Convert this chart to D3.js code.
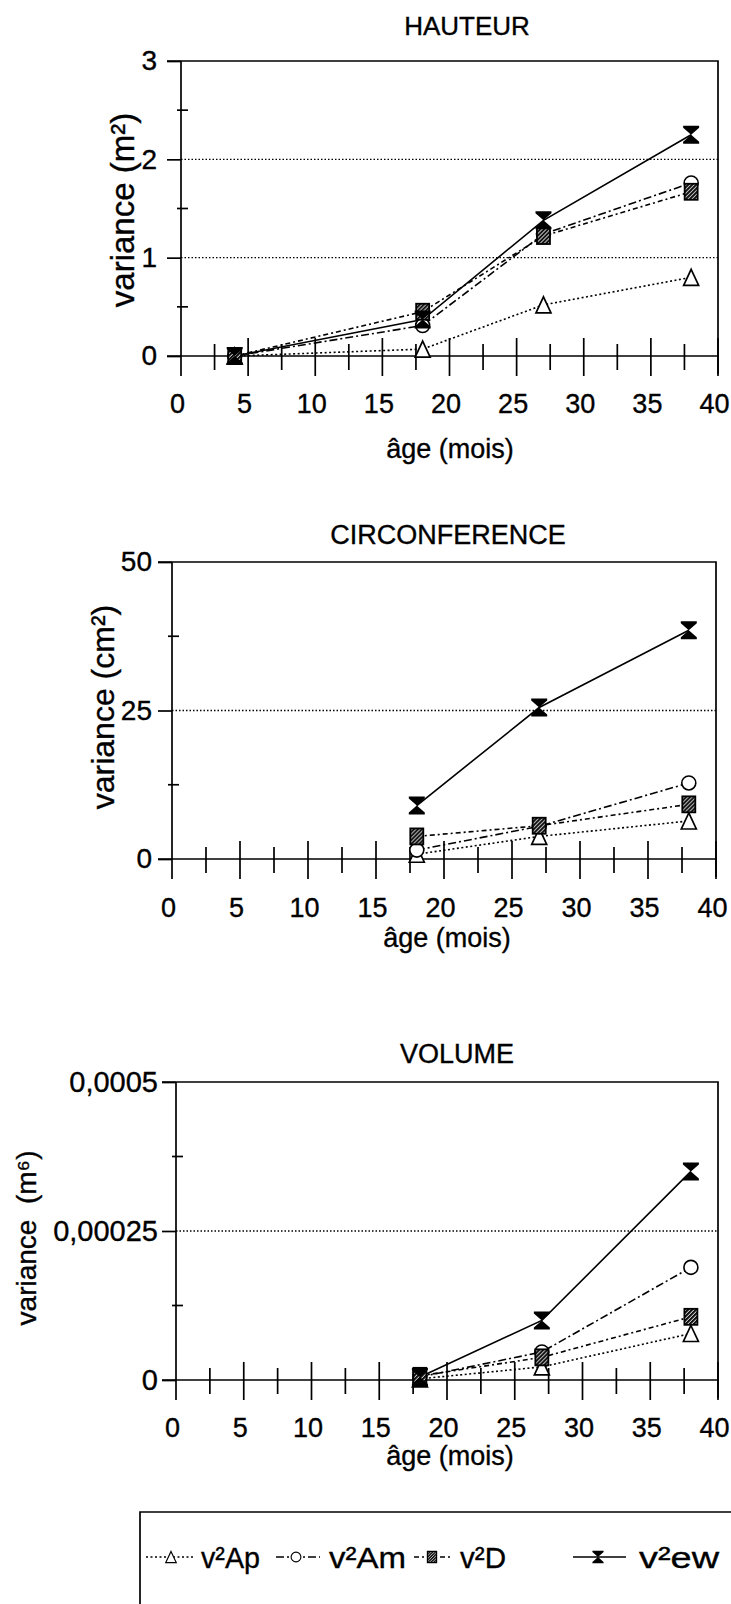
<!DOCTYPE html>
<html>
<head>
<meta charset="utf-8">
<title>variance</title>
<script src="https://cdn.jsdelivr.net/npm/d3@7"></script>
<style>
    body { margin: 0; background: #fff; }
    svg text { font-family: "Liberation Sans", Arial, sans-serif; fill: #000; stroke: #000; stroke-width: 0.35; }
</style>
</head>
<body>
<svg id="chart" width="731" height="1604"></svg>
<script>
    // ages (mois)
    var ageTicks = [0, 5, 10, 15, 20, 25, 30, 35, 40];
    var ageHaut = [4, 18, 27, 38];
    var ageAutres = [18, 27, 38];

    // HAUTEUR (m2)
    var hautAp = [0, 0.07, 0.52, 0.80];
    var hautAm = [0, 0.31, 1.24, 1.76];
    var hautD = [0, 0.45, 1.22, 1.67];
    var hautEw = [0, 0.37, 1.38, 2.25];
    var hautTicks = [0, 1, 2, 3];

    // CIRCONFERENCE (cm2)
    var circAp = [0.8, 3.8, 6.4];
    var circAm = [1.5, 5.5, 12.8];
    var circD = [3.8, 5.6, 9.2];
    var circEw = [9.0, 25.5, 38.5];
    var circTicks = [0, 25, 50];

    // VOLUME (m6)
    var volAp = [0.000002, 0.000022, 0.000078];
    var volAm = [0.000005, 0.000047, 0.000189];
    var volD = [0.000007, 0.000038, 0.000106];
    var volEw = [0.000005, 0.000100, 0.000350];
    var volTicks = [0, 0.00025, 0.0005];
    var volTickLabels = ["0", "0,00025", "0,0005"];

    var seriesNames = ["v²Ap", "v²Am", "v²D", "v²ew"];
    var seriesMarkers = ["triangle", "circle", "square", "hourglass"];
    var seriesDash = ["2,2.5", "8,3,2,3", "5,3,2,3", null];

    var svg = d3.select("#chart");

    // motif hachuré des carrés
    var pat = svg.append("defs").append("pattern")
        .attr("id", "hatch")
        .attr("patternUnits", "userSpaceOnUse")
        .attr("width", 4).attr("height", 4);
    pat.append("rect").attr("width", 4).attr("height", 4).attr("fill", "#111");
    pat.append("path").attr("d", "M0,4 L4,0").attr("stroke", "#fff").attr("stroke-width", 1);

    function marker(g, type, x, y, s) {
        var m = g.append("g").attr("transform", "translate(" + x + "," + y + ") scale(" + s + ")");
        if (type === "triangle") {
            m.append("path").attr("d", "M0,-8 L7.5,8 L-7.5,8 Z")
                .attr("fill", "#fff").attr("stroke", "#000").attr("stroke-width", 1.7);
        } else if (type === "circle") {
            m.append("circle").attr("r", 7)
                .attr("fill", "#fff").attr("stroke", "#000").attr("stroke-width", 1.6);
        } else if (type === "square") {
            m.append("rect").attr("x", -6.5).attr("y", -8).attr("width", 13).attr("height", 16)
                .attr("fill", "url(#hatch)").attr("stroke", "#000").attr("stroke-width", 1.8);
        } else {
            m.append("path").attr("d", "M-8,-9 L8,-9 L8,-7 L0,0 L8,7 L8,9 L-8,9 L-8,7 L0,0 L-8,-7 Z")
                .attr("fill", "#000");
        }
    }

    function panel(cfg) {
        var x = d3.scaleLinear().domain([0, 40]).range([cfg.left, cfg.right]);
        var y = d3.scaleLinear().domain([0, cfg.yTicks[cfg.yTicks.length - 1]]).range([cfg.bottom, cfg.top]);
        var g = svg.append("g");
        var yMax = y.domain()[1];

        // titre
        g.append("text").attr("x", cfg.titleX).attr("y", cfg.titleY)
            .attr("text-anchor", "middle").attr("font-size", cfg.titleSize).text(cfg.title);

        // grille pointillée
        g.selectAll(".grid").data(cfg.yTicks.filter(function (d) { return d > 0 && d < yMax; }))
            .enter().append("line")
            .attr("x1", cfg.left).attr("x2", cfg.right)
            .attr("y1", function (d) { return y(d); }).attr("y2", function (d) { return y(d); })
            .attr("stroke", "#000").attr("stroke-width", 1.4).attr("stroke-dasharray", "1.5,2");

        // cadre haut + droit
        g.append("path")
            .attr("d", "M" + (cfg.left - 14) + "," + cfg.top + " H" + cfg.right + " V" + (cfg.bottom + 18))
            .attr("fill", "none").attr("stroke", "#000").attr("stroke-width", 1.7);

        // axe y
        var ya = g.append("g").attr("transform", "translate(" + cfg.left + ",0)")
            .call(d3.axisLeft(y).tickValues(cfg.yTicks).tickSize(14).tickPadding(cfg.yPad)
                .tickFormat(function (d, i) { return cfg.yLabels[i]; }));
        ya.select(".domain").remove();
        ya.selectAll("line").attr("stroke-width", 1.7);
        ya.selectAll("text").attr("font-size", cfg.yFont).attr("font-family", "Liberation Sans, Arial, sans-serif");
        g.append("line").attr("x1", cfg.left).attr("x2", cfg.left)
            .attr("y1", cfg.top).attr("y2", cfg.bottom + 20)
            .attr("stroke", "#000").attr("stroke-width", 1.7);
        // petites graduations y
        var mids = [];
        for (var i = 0; i < cfg.yTicks.length - 1; i++) mids.push((cfg.yTicks[i] + cfg.yTicks[i + 1]) / 2);
        g.selectAll(".ymin").data(mids).enter().append("line")
            .attr("x1", cfg.left - 4).attr("x2", cfg.left + 7)
            .attr("y1", function (d) { return y(d); }).attr("y2", function (d) { return y(d); })
            .attr("stroke", "#000").attr("stroke-width", 1.7);

        // axe x : ligne du zéro avec graduations qui traversent
        g.append("line").attr("x1", cfg.left - 14).attr("x2", cfg.right)
            .attr("y1", y(0)).attr("y2", y(0)).attr("stroke", "#000").attr("stroke-width", 1.7);
        var xt = [];
        for (var k = 1; k < ageTicks.length; k++) { xt.push(ageTicks[k] - 2.5); xt.push(ageTicks[k]); }
        g.selectAll(".xt").data(xt).enter().append("line")
            .attr("x1", function (d) { return x(d); }).attr("x2", function (d) { return x(d); })
            .attr("y1", function (d) { return y(0) - (d % 5 === 0 ? 18 : 12); })
            .attr("y2", function (d) { return y(0) + (d % 5 === 0 ? 20 : 14); })
            .attr("stroke", "#000").attr("stroke-width", 1.7);
        var xa = g.append("g").attr("transform", "translate(-4," + y(0) + ")")
            .call(d3.axisBottom(x).tickValues(ageTicks).tickSize(0).tickPadding(cfg.xPad));
        xa.select(".domain").remove();
        xa.selectAll("text").attr("font-size", 27).attr("font-family", "Liberation Sans, Arial, sans-serif");

        // titres des axes
        g.append("text").attr("x", cfg.xTitleX).attr("y", cfg.xTitleY)
            .attr("text-anchor", "middle").attr("font-size", 27).text("âge (mois)");
        g.append("text")
            .attr("transform", "translate(" + cfg.yTitleX + "," + cfg.yTitleY + ") rotate(-90)")
            .attr("text-anchor", "middle").attr("font-size", cfg.yTitleSize).attr("xml:space", "preserve")
            .text(cfg.yTitle);

        // séries
        var line = d3.line().x(function (d) { return x(d[0]); }).y(function (d) { return y(d[1]); });
        cfg.series.forEach(function (vals, s) {
            var pts = cfg.ages.map(function (a, j) { return [a, vals[j]]; });
            g.append("path").attr("d", line(pts)).attr("fill", "none")
                .attr("stroke", "#000").attr("stroke-width", 1.6)
                .attr("stroke-dasharray", seriesDash[s]);
        });
        cfg.series.forEach(function (vals, s) {
            cfg.ages.forEach(function (a, j) {
                marker(g, seriesMarkers[s], x(a), y(vals[j]), 1);
            });
        });
    }

    panel({
        title: "HAUTEUR", titleX: 467, titleY: 35, titleSize: 26,
        left: 181, right: 718, top: 61, bottom: 356,
        yTicks: hautTicks, yLabels: hautTicks.map(String), yPad: 10, yFont: 28, xPad: 38,
        ages: ageHaut, series: [hautAp, hautAm, hautD, hautEw],
        yTitle: "variance (m²)", yTitleX: 134, yTitleY: 210, yTitleSize: 33,
        xTitleX: 450, xTitleY: 458
    });

    panel({
        title: "CIRCONFERENCE", titleX: 448, titleY: 544, titleSize: 27,
        left: 172, right: 716, top: 562, bottom: 859,
        yTicks: circTicks, yLabels: circTicks.map(String), yPad: 6, yFont: 28, xPad: 39,
        ages: ageAutres, series: [circAp, circAm, circD, circEw],
        yTitle: "variance (cm²)", yTitleX: 114, yTitleY: 707, yTitleSize: 32,
        xTitleX: 447, xTitleY: 947
    });

    panel({
        title: "VOLUME", titleX: 457, titleY: 1063, titleSize: 27,
        left: 176, right: 718, top: 1082, bottom: 1380,
        yTicks: volTicks, yLabels: volTickLabels, yPad: 4, yFont: 29, xPad: 38,
        ages: ageAutres, series: [volAp, volAm, volD, volEw],
        yTitle: "variance  (m⁶)", yTitleX: 36, yTitleY: 1238, yTitleSize: 28,
        xTitleX: 450, xTitleY: 1465
    });

    // légende
    var leg = svg.append("g");
    leg.append("path").attr("d", "M733,1512 H140 V1606")
        .attr("fill", "none").attr("stroke", "#000").attr("stroke-width", 1.7);
    var legX = [[146, 194, 171, 201, 59], [276, 320, 296, 329, 77], [414, 453, 432, 460, 46], [573, 626, 598, 639, 80]];
    var legY = 1557;
    seriesNames.forEach(function (name, s) {
        var p = legX[s];
        leg.append("line").attr("x1", p[0]).attr("x2", p[1]).attr("y1", legY).attr("y2", legY)
            .attr("stroke", "#000").attr("stroke-width", 1.4).attr("stroke-dasharray", seriesDash[s]);
        marker(leg, seriesMarkers[s], p[2], legY, 0.7);
        leg.append("text").attr("x", p[3]).attr("y", legY + 11).attr("font-size", 30)
            .attr("textLength", p[4]).attr("lengthAdjust", "spacingAndGlyphs").text(name);
    });
</script>
</body>
</html>
